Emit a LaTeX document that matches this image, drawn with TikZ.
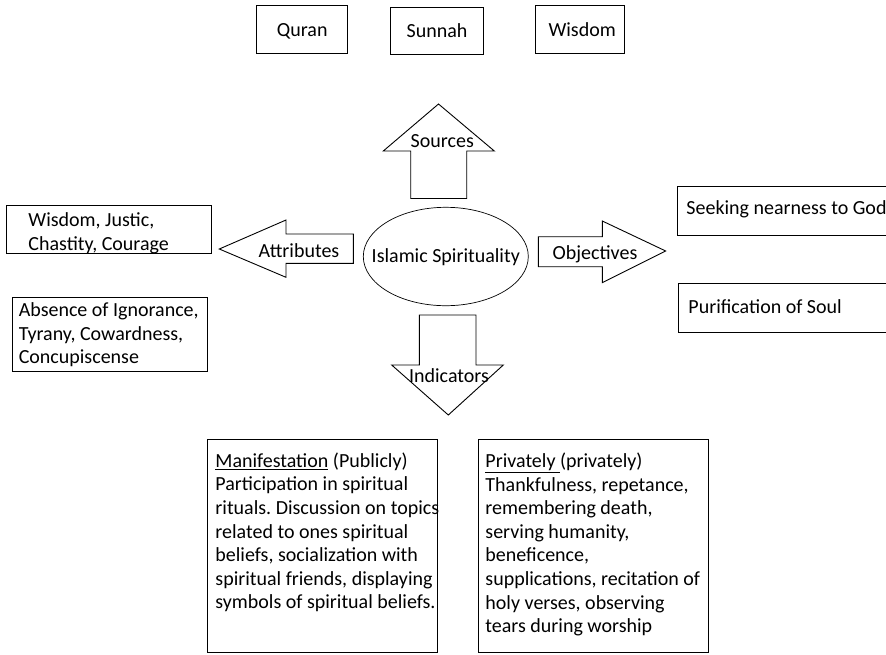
\documentclass[tikz,border=0pt]{standalone}
\usepackage{fontspec}
\setmainfont{Carlito}
\usetikzlibrary{shapes.geometric}
\frenchspacing
\newcommand{\celltext}[4]{\parbox[c][#2][t]{#1}{\vspace*{#3}\noindent\begin{tabular}{@{}l@{}}#4\end{tabular}}}

\begin{document}
\begin{tikzpicture}[x=1pt, y=-1pt, line width=0.9pt,
	every node/.style={font=\fontsize{20}{23.6}\selectfont},
	src/.style={draw, rectangle, inner sep=0pt, text height=17pt, text depth=4pt},
	cell/.style={draw, rectangle, inner ysep=0pt, anchor=north west},
	tag/.style={inner sep=0pt, text height=13pt, text depth=4pt}]
		%%%%% START %%%%%
		
		\useasboundingbox (0, 0) rectangle (886, 654);
		\clip (0, 0) rectangle (886, 654);
		
		\node[src, minimum width=91pt, minimum height=47.6pt] (quran) at (302.2, 29.5) {Quran};
		\node[src, minimum width=92.6pt, minimum height=47pt] (sunnah) at (437, 30.8) {Sunnah};
		\node[src, minimum width=89.3pt, minimum height=47.6pt] (wisdom) at (579.7, 29.5) {\hspace{5pt}Wisdom};
		
		\node[draw, ellipse, line width=0.7pt, minimum width=165pt, minimum height=98.4pt, inner xsep=-17pt, inner ysep=0pt, text height=15pt, text depth=4pt] (core) at (445.8, 256.5) {Islamic Spirituality};
		
		\draw (410.7, 198.5) -- (410.7, 151) -- (383.3, 151) -- (438.5, 104) -- (494.3, 151) -- (466.7, 151) -- (466.7, 198.5) -- cycle;
		\node[tag] (sources) at (442.3, 143) {Sources};
		
		\draw (353.3, 234) -- (286, 234) -- (286, 220) -- (219.3, 249) -- (286, 277.3) -- (286, 263.3) -- (353.3, 263.3) -- cycle;
		\node[tag] (attributes) at (299, 253) {Attributes};
		
		\draw (538.3, 236.7) -- (602.3, 236.7) -- (602.3, 221) -- (665.7, 251) -- (602.3, 282.7) -- (602.3, 266.7) -- (538.3, 266.7) -- cycle;
		\node[tag] (objectives) at (595, 255) {Objectives};
		
		\draw (419.3, 315) -- (476, 315) -- (476, 365) -- (503.3, 365) -- (448.3, 415) -- (391.7, 365) -- (419.3, 365) -- cycle;
		\node[tag] (indicators) at (449, 377.5) {Indicators};
		
		\node[cell, inner xsep=22.3pt] (virtues) at (5.7, 205) {\celltext{160.4pt}{48.3pt}{4.5pt}{Wisdom, Justic,\\ Chastity, Courage}};
		\node[cell, inner xsep=6pt] (vices) at (12.3, 296.7) {\celltext{182.4pt}{74pt}{3pt}{Absence of Ignorance,\\ Tyrany, Cowardness,\\ Concupiscense}};
		
		\node[cell, inner xsep=9.3pt] (nearness) at (676.7, 185.7) {\celltext{211.4pt}{49.3pt}{12pt}{Seeking nearness to God}};
		\node[cell, inner xsep=10.3pt] (purification) at (677.7, 282.7) {\celltext{209.4pt}{49pt}{14pt}{Purification of Soul}};
		
		\node[cell, inner xsep=7.7pt] (public) at (207.3, 439.3) {\celltext{214.6pt}{212.4pt}{11pt}{\underline{Manifestation} (Publicly)\\ Participation in spiritual\\ rituals. Discussion on topics\\ related to ones spiritual\\ beliefs, socialization with\\ spiritual friends, displaying\\ symbols of spiritual beliefs.}};
		\node[cell, inner xsep=6.7pt] (private) at (478.3, 439) {\celltext{216pt}{212.7pt}{11.5pt}{\underline{Privately\ }(privately)\\ Thankfulness, repetance,\\ remembering death,\\ serving humanity,\\ beneficence,\\ supplications, recitation of\\ holy verses, observing\\ tears during worship}};
		
		%%%%% END %%%%%
	\end{tikzpicture}
\end{document}
